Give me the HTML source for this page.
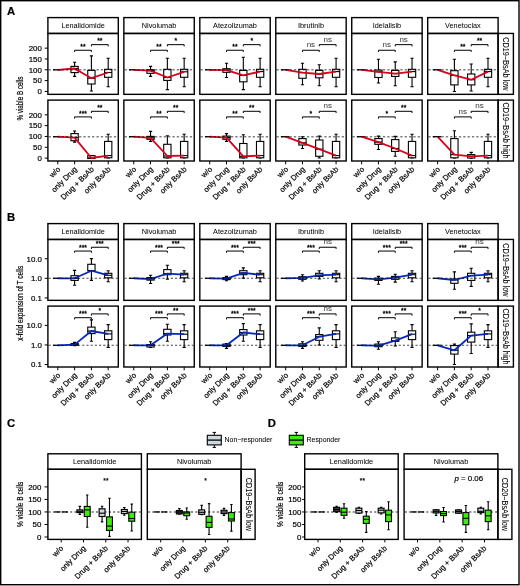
<!DOCTYPE html><html><head><meta charset="utf-8"><style>html,body{margin:0;padding:0;background:#fff;}svg{display:block;will-change:transform;}text{font-family:"Liberation Sans", sans-serif;stroke:#000;stroke-width:0.2px;}</style></head><body>
<svg width="520" height="586" viewBox="0 0 520 586">
<rect x="0" y="0" width="520" height="586" fill="#fff"/>
<text x="7" y="14.8" font-size="11.3" text-anchor="start" font-weight="bold" fill="#000">A</text>
<text x="7" y="220.9" font-size="11.3" text-anchor="start" font-weight="bold" fill="#000">B</text>
<text x="7" y="426.8" font-size="11.3" text-anchor="start" font-weight="bold" fill="#000">C</text>
<text x="267.7" y="427" font-size="11.3" text-anchor="start" font-weight="bold" fill="#000">D</text>
<rect x="47.9" y="17.6" width="70.4" height="15.85" fill="none" stroke="#000" stroke-width="1.4"/>
<text x="83.1" y="28" font-size="7.3" text-anchor="middle" font-weight="normal" fill="#000" style="stroke-width:0.02px">Lenalidomide</text>
<rect x="123.86" y="17.6" width="70.4" height="15.85" fill="none" stroke="#000" stroke-width="1.4"/>
<text x="159.06" y="28" font-size="7.3" text-anchor="middle" font-weight="normal" fill="#000" style="stroke-width:0.02px">Nivolumab</text>
<rect x="199.82" y="17.6" width="70.4" height="15.85" fill="none" stroke="#000" stroke-width="1.4"/>
<text x="235.02" y="28" font-size="7.3" text-anchor="middle" font-weight="normal" fill="#000" style="stroke-width:0.02px">Atezolizumab</text>
<rect x="275.78" y="17.6" width="70.4" height="15.85" fill="none" stroke="#000" stroke-width="1.4"/>
<text x="310.98" y="28" font-size="7.3" text-anchor="middle" font-weight="normal" fill="#000" style="stroke-width:0.02px">Ibrutinib</text>
<rect x="351.74" y="17.6" width="70.4" height="15.85" fill="none" stroke="#000" stroke-width="1.4"/>
<text x="386.94" y="28" font-size="7.3" text-anchor="middle" font-weight="normal" fill="#000" style="stroke-width:0.02px">Idelalisib</text>
<rect x="427.7" y="17.6" width="70.4" height="15.85" fill="none" stroke="#000" stroke-width="1.4"/>
<text x="462.9" y="28" font-size="7.3" text-anchor="middle" font-weight="normal" fill="#000" style="stroke-width:0.02px">Venetoclax</text>
<rect x="498.1" y="33.45" width="15.3" height="60.9" fill="none" stroke="#000" stroke-width="1.4"/>
<text x="0" y="0" font-size="7.3" text-anchor="middle" style="stroke-width:0.05px" transform="translate(502.9 63.9) rotate(90) scale(1 1.17)">CD19−BsAb low</text>
<path d="M44.7 48.15H47.9" stroke="#000" stroke-width="1"/>
<text x="41.9" y="50.95" font-size="7.9" text-anchor="end" font-weight="normal" fill="#000">200</text>
<path d="M44.7 58.98H47.9" stroke="#000" stroke-width="1"/>
<text x="41.9" y="61.77" font-size="7.9" text-anchor="end" font-weight="normal" fill="#000">150</text>
<path d="M44.7 69.8H47.9" stroke="#000" stroke-width="1"/>
<text x="41.9" y="72.6" font-size="7.9" text-anchor="end" font-weight="normal" fill="#000">100</text>
<path d="M44.7 80.62H47.9" stroke="#000" stroke-width="1"/>
<text x="41.9" y="83.42" font-size="7.9" text-anchor="end" font-weight="normal" fill="#000">50</text>
<path d="M44.7 91.45H47.9" stroke="#000" stroke-width="1"/>
<text x="41.9" y="94.25" font-size="7.9" text-anchor="end" font-weight="normal" fill="#000">0</text>
<path d="M53.05 69.8H61.55" stroke="#000" stroke-width="1.3"/>
<path d="M74.6 62.2V66.4M74.6 72.6V76.4M73 62.2H76.2M73 76.4H76.2" stroke="#000" stroke-width="1.1" fill="none"/>
<rect x="70.95" y="66.4" width="7.3" height="6.2" fill="#fff" stroke="#000" stroke-width="1.1"/>
<path d="M70.95 68.5H78.25" stroke="#000" stroke-width="1.1"/>
<path d="M91.4 55.9V70.4M91.4 84V91M89.8 55.9H93M89.8 91H93" stroke="#000" stroke-width="1.1" fill="none"/>
<rect x="87.75" y="70.4" width="7.3" height="13.6" fill="#fff" stroke="#000" stroke-width="1.1"/>
<path d="M87.75 78.2H95.05" stroke="#000" stroke-width="1.1"/>
<path d="M108.2 58.3V69.3M108.2 77.3V86.8M106.6 58.3H109.8M106.6 86.8H109.8" stroke="#000" stroke-width="1.1" fill="none"/>
<rect x="104.55" y="69.3" width="7.3" height="8" fill="#fff" stroke="#000" stroke-width="1.1"/>
<path d="M104.55 72.5H111.85" stroke="#000" stroke-width="1.1"/>
<polyline points="57.8,69.8 74.6,68.5 91.4,78.2 108.2,72.5" fill="none" stroke="#d9001b" stroke-width="1.8" stroke-linejoin="round"/>
<path d="M48.6 69.8H117.6" stroke="#000" stroke-opacity="0.5" stroke-width="1.6" stroke-dasharray="2.3 2.05"/>
<path d="M74.6 51.95V50.25H91.4V51.95" stroke="#000" stroke-width="1" fill="none"/>
<text x="83" y="48.85" font-size="6.8" text-anchor="middle" font-weight="normal" fill="#000" style="stroke-width:0.3px">**</text>
<path d="M91.4 46.35V44.65H108.2V46.35" stroke="#000" stroke-width="1" fill="none"/>
<text x="99.8" y="43.25" font-size="6.8" text-anchor="middle" font-weight="normal" fill="#000" style="stroke-width:0.3px">**</text>
<rect x="47.9" y="33.45" width="70.4" height="60.9" fill="none" stroke="#000" stroke-width="1.4"/>
<path d="M129.01 69.8H137.51" stroke="#000" stroke-width="1.3"/>
<path d="M150.56 66.4V69.7M150.56 73.3V76.4M148.96 66.4H152.16M148.96 76.4H152.16" stroke="#000" stroke-width="1.1" fill="none"/>
<rect x="146.91" y="69.7" width="7.3" height="3.6" fill="#fff" stroke="#000" stroke-width="1.1"/>
<path d="M146.91 70.7H154.21" stroke="#000" stroke-width="1.1"/>
<path d="M167.36 58.3V69.3M167.36 80.4V89.6M165.76 58.3H168.96M165.76 89.6H168.96" stroke="#000" stroke-width="1.1" fill="none"/>
<rect x="163.71" y="69.3" width="7.3" height="11.1" fill="#fff" stroke="#000" stroke-width="1.1"/>
<path d="M163.71 77.5H171.01" stroke="#000" stroke-width="1.1"/>
<path d="M184.16 58.3V69.3M184.16 77.3V86.8M182.56 58.3H185.76M182.56 86.8H185.76" stroke="#000" stroke-width="1.1" fill="none"/>
<rect x="180.51" y="69.3" width="7.3" height="8" fill="#fff" stroke="#000" stroke-width="1.1"/>
<path d="M180.51 71.8H187.81" stroke="#000" stroke-width="1.1"/>
<polyline points="133.76,69.8 150.56,70.7 167.36,77.5 184.16,71.8" fill="none" stroke="#d9001b" stroke-width="1.8" stroke-linejoin="round"/>
<path d="M124.56 69.8H193.56" stroke="#000" stroke-opacity="0.5" stroke-width="1.6" stroke-dasharray="2.3 2.05"/>
<path d="M150.56 51.95V50.25H167.36V51.95" stroke="#000" stroke-width="1" fill="none"/>
<text x="158.96" y="48.85" font-size="6.8" text-anchor="middle" font-weight="normal" fill="#000" style="stroke-width:0.3px">**</text>
<path d="M167.36 46.35V44.65H184.16V46.35" stroke="#000" stroke-width="1" fill="none"/>
<text x="175.76" y="43.25" font-size="6.8" text-anchor="middle" font-weight="normal" fill="#000" style="stroke-width:0.3px">*</text>
<rect x="123.86" y="33.45" width="70.4" height="60.9" fill="none" stroke="#000" stroke-width="1.4"/>
<path d="M204.97 69.8H213.47" stroke="#000" stroke-width="1.3"/>
<path d="M226.52 63.3V68.7M226.52 72.3V77.5M224.92 63.3H228.12M224.92 77.5H228.12" stroke="#000" stroke-width="1.1" fill="none"/>
<rect x="222.87" y="68.7" width="7.3" height="3.6" fill="#fff" stroke="#000" stroke-width="1.1"/>
<path d="M222.87 70.1H230.17" stroke="#000" stroke-width="1.1"/>
<path d="M243.32 57.3V70.4M243.32 81.8V89.6M241.72 57.3H244.92M241.72 89.6H244.92" stroke="#000" stroke-width="1.1" fill="none"/>
<rect x="239.67" y="70.4" width="7.3" height="11.4" fill="#fff" stroke="#000" stroke-width="1.1"/>
<path d="M239.67 75.4H246.97" stroke="#000" stroke-width="1.1"/>
<path d="M260.12 58.3V69.3M260.12 77.3V86.8M258.52 58.3H261.72M258.52 86.8H261.72" stroke="#000" stroke-width="1.1" fill="none"/>
<rect x="256.47" y="69.3" width="7.3" height="8" fill="#fff" stroke="#000" stroke-width="1.1"/>
<path d="M256.47 71.6H263.77" stroke="#000" stroke-width="1.1"/>
<polyline points="209.72,69.8 226.52,70.1 243.32,75.4 260.12,71.6" fill="none" stroke="#d9001b" stroke-width="1.8" stroke-linejoin="round"/>
<path d="M200.52 69.8H269.52" stroke="#000" stroke-opacity="0.5" stroke-width="1.6" stroke-dasharray="2.3 2.05"/>
<path d="M226.52 51.95V50.25H243.32V51.95" stroke="#000" stroke-width="1" fill="none"/>
<text x="234.92" y="48.85" font-size="6.8" text-anchor="middle" font-weight="normal" fill="#000" style="stroke-width:0.3px">**</text>
<path d="M243.32 46.35V44.65H260.12V46.35" stroke="#000" stroke-width="1" fill="none"/>
<text x="251.72" y="43.25" font-size="6.8" text-anchor="middle" font-weight="normal" fill="#000" style="stroke-width:0.3px">*</text>
<rect x="199.82" y="33.45" width="70.4" height="60.9" fill="none" stroke="#000" stroke-width="1.4"/>
<path d="M280.93 69.8H289.43" stroke="#000" stroke-width="1.3"/>
<path d="M302.48 63.3V69.3M302.48 78.3V84.7M300.88 63.3H304.08M300.88 84.7H304.08" stroke="#000" stroke-width="1.1" fill="none"/>
<rect x="298.83" y="69.3" width="7.3" height="9" fill="#fff" stroke="#000" stroke-width="1.1"/>
<path d="M298.83 72.6H306.13" stroke="#000" stroke-width="1.1"/>
<path d="M319.28 64.7V70.4M319.28 77.8V85.8M317.68 64.7H320.88M317.68 85.8H320.88" stroke="#000" stroke-width="1.1" fill="none"/>
<rect x="315.63" y="70.4" width="7.3" height="7.4" fill="#fff" stroke="#000" stroke-width="1.1"/>
<path d="M315.63 74H322.93" stroke="#000" stroke-width="1.1"/>
<path d="M336.08 58.3V69.3M336.08 77.3V86.8M334.48 58.3H337.68M334.48 86.8H337.68" stroke="#000" stroke-width="1.1" fill="none"/>
<rect x="332.43" y="69.3" width="7.3" height="8" fill="#fff" stroke="#000" stroke-width="1.1"/>
<path d="M332.43 71.6H339.73" stroke="#000" stroke-width="1.1"/>
<polyline points="285.68,69.8 302.48,72.6 319.28,74 336.08,71.6" fill="none" stroke="#d9001b" stroke-width="1.8" stroke-linejoin="round"/>
<path d="M276.48 69.8H345.48" stroke="#000" stroke-opacity="0.5" stroke-width="1.6" stroke-dasharray="2.3 2.05"/>
<path d="M302.48 51.95V50.25H319.28V51.95" stroke="#000" stroke-width="1" fill="none"/>
<text x="310.88" y="47.25" font-size="8" text-anchor="middle" font-weight="normal" fill="#444" style="stroke:#444;stroke-width:0.05px">ns</text>
<path d="M319.28 46.35V44.65H336.08V46.35" stroke="#000" stroke-width="1" fill="none"/>
<text x="327.68" y="41.65" font-size="8" text-anchor="middle" font-weight="normal" fill="#444" style="stroke:#444;stroke-width:0.05px">ns</text>
<rect x="275.78" y="33.45" width="70.4" height="60.9" fill="none" stroke="#000" stroke-width="1.4"/>
<path d="M356.89 69.8H365.39" stroke="#000" stroke-width="1.3"/>
<path d="M378.44 59.3V70.1M378.44 77.5V83M376.84 59.3H380.04M376.84 83H380.04" stroke="#000" stroke-width="1.1" fill="none"/>
<rect x="374.79" y="70.1" width="7.3" height="7.4" fill="#fff" stroke="#000" stroke-width="1.1"/>
<path d="M374.79 71.8H382.09" stroke="#000" stroke-width="1.1"/>
<path d="M395.24 61.9V70.4M395.24 76.4V85.8M393.64 61.9H396.84M393.64 85.8H396.84" stroke="#000" stroke-width="1.1" fill="none"/>
<rect x="391.59" y="70.4" width="7.3" height="6" fill="#fff" stroke="#000" stroke-width="1.1"/>
<path d="M391.59 73.6H398.89" stroke="#000" stroke-width="1.1"/>
<path d="M412.04 58.3V69.3M412.04 77.3V86.8M410.44 58.3H413.64M410.44 86.8H413.64" stroke="#000" stroke-width="1.1" fill="none"/>
<rect x="408.39" y="69.3" width="7.3" height="8" fill="#fff" stroke="#000" stroke-width="1.1"/>
<path d="M408.39 71.6H415.69" stroke="#000" stroke-width="1.1"/>
<polyline points="361.64,69.8 378.44,71.8 395.24,73.6 412.04,71.6" fill="none" stroke="#d9001b" stroke-width="1.8" stroke-linejoin="round"/>
<path d="M352.44 69.8H421.44" stroke="#000" stroke-opacity="0.5" stroke-width="1.6" stroke-dasharray="2.3 2.05"/>
<path d="M378.44 51.95V50.25H395.24V51.95" stroke="#000" stroke-width="1" fill="none"/>
<text x="386.84" y="47.25" font-size="8" text-anchor="middle" font-weight="normal" fill="#444" style="stroke:#444;stroke-width:0.05px">ns</text>
<path d="M395.24 46.35V44.65H412.04V46.35" stroke="#000" stroke-width="1" fill="none"/>
<text x="403.64" y="41.65" font-size="8" text-anchor="middle" font-weight="normal" fill="#444" style="stroke:#444;stroke-width:0.05px">ns</text>
<rect x="351.74" y="33.45" width="70.4" height="60.9" fill="none" stroke="#000" stroke-width="1.4"/>
<path d="M432.85 69.8H441.35" stroke="#000" stroke-width="1.3"/>
<path d="M454.4 59.3V70.7M454.4 84.9V91.5M452.8 59.3H456M452.8 91.5H456" stroke="#000" stroke-width="1.1" fill="none"/>
<rect x="450.75" y="70.7" width="7.3" height="14.2" fill="#fff" stroke="#000" stroke-width="1.1"/>
<path d="M450.75 75.4H458.05" stroke="#000" stroke-width="1.1"/>
<path d="M471.2 64V74M471.2 84.9V91M469.6 64H472.8M469.6 91H472.8" stroke="#000" stroke-width="1.1" fill="none"/>
<rect x="467.55" y="74" width="7.3" height="10.9" fill="#fff" stroke="#000" stroke-width="1.1"/>
<path d="M467.55 79.7H474.85" stroke="#000" stroke-width="1.1"/>
<path d="M488 58.3V69.3M488 77.3V86.8M486.4 58.3H489.6M486.4 86.8H489.6" stroke="#000" stroke-width="1.1" fill="none"/>
<rect x="484.35" y="69.3" width="7.3" height="8" fill="#fff" stroke="#000" stroke-width="1.1"/>
<path d="M484.35 71.6H491.65" stroke="#000" stroke-width="1.1"/>
<polyline points="437.6,69.8 454.4,75.4 471.2,79.7 488,71.6" fill="none" stroke="#d9001b" stroke-width="1.8" stroke-linejoin="round"/>
<path d="M428.4 69.8H497.4" stroke="#000" stroke-opacity="0.5" stroke-width="1.6" stroke-dasharray="2.3 2.05"/>
<path d="M454.4 51.95V50.25H471.2V51.95" stroke="#000" stroke-width="1" fill="none"/>
<text x="462.8" y="48.85" font-size="6.8" text-anchor="middle" font-weight="normal" fill="#000" style="stroke-width:0.3px">**</text>
<path d="M471.2 46.35V44.65H488V46.35" stroke="#000" stroke-width="1" fill="none"/>
<text x="479.6" y="43.25" font-size="6.8" text-anchor="middle" font-weight="normal" fill="#000" style="stroke-width:0.3px">**</text>
<rect x="427.7" y="33.45" width="70.4" height="60.9" fill="none" stroke="#000" stroke-width="1.4"/>
<rect x="498.1" y="100.1" width="15.3" height="60.9" fill="none" stroke="#000" stroke-width="1.4"/>
<text x="0" y="0" font-size="7.3" text-anchor="middle" style="stroke-width:0.05px" transform="translate(502.9 130.55) rotate(90) scale(1 1.17)">CD19−BsAb high</text>
<path d="M44.7 114.8H47.9" stroke="#000" stroke-width="1"/>
<text x="41.9" y="117.6" font-size="7.9" text-anchor="end" font-weight="normal" fill="#000">200</text>
<path d="M44.7 125.63H47.9" stroke="#000" stroke-width="1"/>
<text x="41.9" y="128.43" font-size="7.9" text-anchor="end" font-weight="normal" fill="#000">150</text>
<path d="M44.7 136.45H47.9" stroke="#000" stroke-width="1"/>
<text x="41.9" y="139.25" font-size="7.9" text-anchor="end" font-weight="normal" fill="#000">100</text>
<path d="M44.7 147.28H47.9" stroke="#000" stroke-width="1"/>
<text x="41.9" y="150.08" font-size="7.9" text-anchor="end" font-weight="normal" fill="#000">50</text>
<path d="M44.7 158.1H47.9" stroke="#000" stroke-width="1"/>
<text x="41.9" y="160.9" font-size="7.9" text-anchor="end" font-weight="normal" fill="#000">0</text>
<path d="M53.05 136.7H61.55" stroke="#000" stroke-width="1.3"/>
<path d="M74.6 131V133.6M74.6 140.7V142.1M73 131H76.2M73 142.1H76.2" stroke="#000" stroke-width="1.1" fill="none"/>
<rect x="70.95" y="133.6" width="7.3" height="7.1" fill="#fff" stroke="#000" stroke-width="1.1"/>
<path d="M70.95 137.6H78.25" stroke="#000" stroke-width="1.1"/>
<path d="M91.4 155.6V155.6M91.4 158.5V158.5M89.8 155.6H93M89.8 158.5H93" stroke="#000" stroke-width="1.1" fill="none"/>
<rect x="87.75" y="155.6" width="7.3" height="2.9" fill="#fff" stroke="#000" stroke-width="1.1"/>
<path d="M87.75 158H95.05" stroke="#000" stroke-width="1.1"/>
<path d="M108.2 134.3V141.4M108.2 157.8V158M106.6 134.3H109.8M106.6 158H109.8" stroke="#000" stroke-width="1.1" fill="none"/>
<rect x="104.55" y="141.4" width="7.3" height="16.4" fill="#fff" stroke="#000" stroke-width="1.1"/>
<path d="M104.55 155.6H111.85" stroke="#000" stroke-width="1.1"/>
<polyline points="57.8,136.7 74.6,137.6 91.4,158 108.2,155.6" fill="none" stroke="#d9001b" stroke-width="1.8" stroke-linejoin="round"/>
<path d="M48.6 136.7H117.6" stroke="#000" stroke-opacity="0.5" stroke-width="1.6" stroke-dasharray="2.3 2.05"/>
<path d="M74.6 118.6V116.9H91.4V118.6" stroke="#000" stroke-width="1" fill="none"/>
<text x="83" y="115.5" font-size="6.8" text-anchor="middle" font-weight="normal" fill="#000" style="stroke-width:0.3px">***</text>
<path d="M91.4 113V111.3H108.2V113" stroke="#000" stroke-width="1" fill="none"/>
<text x="99.8" y="109.9" font-size="6.8" text-anchor="middle" font-weight="normal" fill="#000" style="stroke-width:0.3px">**</text>
<rect x="47.9" y="100.1" width="70.4" height="60.9" fill="none" stroke="#000" stroke-width="1.4"/>
<path d="M57.8 161V164.3" stroke="#000" stroke-width="1"/>
<text x="0" y="0" font-size="7.6" text-anchor="end" transform="translate(60.8 169.7) rotate(-45)">w/o</text>
<path d="M74.6 161V164.3" stroke="#000" stroke-width="1"/>
<text x="0" y="0" font-size="7.6" text-anchor="end" transform="translate(77.6 169.7) rotate(-45)">only Drug</text>
<path d="M91.4 161V164.3" stroke="#000" stroke-width="1"/>
<text x="0" y="0" font-size="7.6" text-anchor="end" transform="translate(94.4 169.7) rotate(-45)">Drug + BsAb</text>
<path d="M108.2 161V164.3" stroke="#000" stroke-width="1"/>
<text x="0" y="0" font-size="7.6" text-anchor="end" transform="translate(111.2 169.7) rotate(-45)">only BsAb</text>
<path d="M129.01 136.7H137.51" stroke="#000" stroke-width="1.3"/>
<path d="M150.56 131.4V136.4M150.56 139.3V141.4M148.96 131.4H152.16M148.96 141.4H152.16" stroke="#000" stroke-width="1.1" fill="none"/>
<rect x="146.91" y="136.4" width="7.3" height="2.9" fill="#fff" stroke="#000" stroke-width="1.1"/>
<path d="M146.91 137.8H154.21" stroke="#000" stroke-width="1.1"/>
<path d="M167.36 135.7V144.3M167.36 157.8V158M165.76 135.7H168.96M165.76 158H168.96" stroke="#000" stroke-width="1.1" fill="none"/>
<rect x="163.71" y="144.3" width="7.3" height="13.5" fill="#fff" stroke="#000" stroke-width="1.1"/>
<path d="M163.71 156H171.01" stroke="#000" stroke-width="1.1"/>
<path d="M184.16 134.3V141.4M184.16 157.8V158M182.56 134.3H185.76M182.56 158H185.76" stroke="#000" stroke-width="1.1" fill="none"/>
<rect x="180.51" y="141.4" width="7.3" height="16.4" fill="#fff" stroke="#000" stroke-width="1.1"/>
<path d="M180.51 155.6H187.81" stroke="#000" stroke-width="1.1"/>
<polyline points="133.76,136.7 150.56,137.8 167.36,156 184.16,155.6" fill="none" stroke="#d9001b" stroke-width="1.8" stroke-linejoin="round"/>
<path d="M124.56 136.7H193.56" stroke="#000" stroke-opacity="0.5" stroke-width="1.6" stroke-dasharray="2.3 2.05"/>
<path d="M150.56 118.6V116.9H167.36V118.6" stroke="#000" stroke-width="1" fill="none"/>
<text x="158.96" y="115.5" font-size="6.8" text-anchor="middle" font-weight="normal" fill="#000" style="stroke-width:0.3px">**</text>
<path d="M167.36 113V111.3H184.16V113" stroke="#000" stroke-width="1" fill="none"/>
<text x="175.76" y="109.9" font-size="6.8" text-anchor="middle" font-weight="normal" fill="#000" style="stroke-width:0.3px">**</text>
<rect x="123.86" y="100.1" width="70.4" height="60.9" fill="none" stroke="#000" stroke-width="1.4"/>
<path d="M133.76 161V164.3" stroke="#000" stroke-width="1"/>
<text x="0" y="0" font-size="7.6" text-anchor="end" transform="translate(136.76 169.7) rotate(-45)">w/o</text>
<path d="M150.56 161V164.3" stroke="#000" stroke-width="1"/>
<text x="0" y="0" font-size="7.6" text-anchor="end" transform="translate(153.56 169.7) rotate(-45)">only Drug</text>
<path d="M167.36 161V164.3" stroke="#000" stroke-width="1"/>
<text x="0" y="0" font-size="7.6" text-anchor="end" transform="translate(170.36 169.7) rotate(-45)">Drug + BsAb</text>
<path d="M184.16 161V164.3" stroke="#000" stroke-width="1"/>
<text x="0" y="0" font-size="7.6" text-anchor="end" transform="translate(187.16 169.7) rotate(-45)">only BsAb</text>
<path d="M204.97 136.7H213.47" stroke="#000" stroke-width="1.3"/>
<path d="M226.52 133.6V136.1M226.52 139.3V141.4M224.92 133.6H228.12M224.92 141.4H228.12" stroke="#000" stroke-width="1.1" fill="none"/>
<rect x="222.87" y="136.1" width="7.3" height="3.2" fill="#fff" stroke="#000" stroke-width="1.1"/>
<path d="M222.87 137.6H230.17" stroke="#000" stroke-width="1.1"/>
<path d="M243.32 134.7V143.5M243.32 157.8V158M241.72 134.7H244.92M241.72 158H244.92" stroke="#000" stroke-width="1.1" fill="none"/>
<rect x="239.67" y="143.5" width="7.3" height="14.3" fill="#fff" stroke="#000" stroke-width="1.1"/>
<path d="M239.67 156.3H246.97" stroke="#000" stroke-width="1.1"/>
<path d="M260.12 134.3V141.4M260.12 157.8V158M258.52 134.3H261.72M258.52 158H261.72" stroke="#000" stroke-width="1.1" fill="none"/>
<rect x="256.47" y="141.4" width="7.3" height="16.4" fill="#fff" stroke="#000" stroke-width="1.1"/>
<path d="M256.47 155.6H263.77" stroke="#000" stroke-width="1.1"/>
<polyline points="209.72,136.7 226.52,137.6 243.32,156.3 260.12,155.6" fill="none" stroke="#d9001b" stroke-width="1.8" stroke-linejoin="round"/>
<path d="M200.52 136.7H269.52" stroke="#000" stroke-opacity="0.5" stroke-width="1.6" stroke-dasharray="2.3 2.05"/>
<path d="M226.52 118.6V116.9H243.32V118.6" stroke="#000" stroke-width="1" fill="none"/>
<text x="234.92" y="115.5" font-size="6.8" text-anchor="middle" font-weight="normal" fill="#000" style="stroke-width:0.3px">**</text>
<path d="M243.32 113V111.3H260.12V113" stroke="#000" stroke-width="1" fill="none"/>
<text x="251.72" y="109.9" font-size="6.8" text-anchor="middle" font-weight="normal" fill="#000" style="stroke-width:0.3px">**</text>
<rect x="199.82" y="100.1" width="70.4" height="60.9" fill="none" stroke="#000" stroke-width="1.4"/>
<path d="M209.72 161V164.3" stroke="#000" stroke-width="1"/>
<text x="0" y="0" font-size="7.6" text-anchor="end" transform="translate(212.72 169.7) rotate(-45)">w/o</text>
<path d="M226.52 161V164.3" stroke="#000" stroke-width="1"/>
<text x="0" y="0" font-size="7.6" text-anchor="end" transform="translate(229.52 169.7) rotate(-45)">only Drug</text>
<path d="M243.32 161V164.3" stroke="#000" stroke-width="1"/>
<text x="0" y="0" font-size="7.6" text-anchor="end" transform="translate(246.32 169.7) rotate(-45)">Drug + BsAb</text>
<path d="M260.12 161V164.3" stroke="#000" stroke-width="1"/>
<text x="0" y="0" font-size="7.6" text-anchor="end" transform="translate(263.12 169.7) rotate(-45)">only BsAb</text>
<path d="M280.93 136.7H289.43" stroke="#000" stroke-width="1.3"/>
<path d="M302.48 136.7V138.6M302.48 145V148.5M300.88 136.7H304.08M300.88 148.5H304.08" stroke="#000" stroke-width="1.1" fill="none"/>
<rect x="298.83" y="138.6" width="7.3" height="6.4" fill="#fff" stroke="#000" stroke-width="1.1"/>
<path d="M298.83 142.8H306.13" stroke="#000" stroke-width="1.1"/>
<path d="M319.28 136.1V140M319.28 156.3V158M317.68 136.1H320.88M317.68 158H320.88" stroke="#000" stroke-width="1.1" fill="none"/>
<rect x="315.63" y="140" width="7.3" height="16.3" fill="#fff" stroke="#000" stroke-width="1.1"/>
<path d="M315.63 149.2H322.93" stroke="#000" stroke-width="1.1"/>
<path d="M336.08 134.3V141.4M336.08 157.8V158M334.48 134.3H337.68M334.48 158H337.68" stroke="#000" stroke-width="1.1" fill="none"/>
<rect x="332.43" y="141.4" width="7.3" height="16.4" fill="#fff" stroke="#000" stroke-width="1.1"/>
<path d="M332.43 155.6H339.73" stroke="#000" stroke-width="1.1"/>
<polyline points="285.68,136.7 302.48,142.8 319.28,149.2 336.08,155.6" fill="none" stroke="#d9001b" stroke-width="1.8" stroke-linejoin="round"/>
<path d="M276.48 136.7H345.48" stroke="#000" stroke-opacity="0.5" stroke-width="1.6" stroke-dasharray="2.3 2.05"/>
<path d="M302.48 118.6V116.9H319.28V118.6" stroke="#000" stroke-width="1" fill="none"/>
<text x="310.88" y="115.5" font-size="6.8" text-anchor="middle" font-weight="normal" fill="#000" style="stroke-width:0.3px">*</text>
<path d="M319.28 113V111.3H336.08V113" stroke="#000" stroke-width="1" fill="none"/>
<text x="327.68" y="108.3" font-size="8" text-anchor="middle" font-weight="normal" fill="#444" style="stroke:#444;stroke-width:0.05px">ns</text>
<rect x="275.78" y="100.1" width="70.4" height="60.9" fill="none" stroke="#000" stroke-width="1.4"/>
<path d="M285.68 161V164.3" stroke="#000" stroke-width="1"/>
<text x="0" y="0" font-size="7.6" text-anchor="end" transform="translate(288.68 169.7) rotate(-45)">w/o</text>
<path d="M302.48 161V164.3" stroke="#000" stroke-width="1"/>
<text x="0" y="0" font-size="7.6" text-anchor="end" transform="translate(305.48 169.7) rotate(-45)">only Drug</text>
<path d="M319.28 161V164.3" stroke="#000" stroke-width="1"/>
<text x="0" y="0" font-size="7.6" text-anchor="end" transform="translate(322.28 169.7) rotate(-45)">Drug + BsAb</text>
<path d="M336.08 161V164.3" stroke="#000" stroke-width="1"/>
<text x="0" y="0" font-size="7.6" text-anchor="end" transform="translate(339.08 169.7) rotate(-45)">only BsAb</text>
<path d="M356.89 136.7H365.39" stroke="#000" stroke-width="1.3"/>
<path d="M378.44 136.1V138.6M378.44 144.3V149.5M376.84 136.1H380.04M376.84 149.5H380.04" stroke="#000" stroke-width="1.1" fill="none"/>
<rect x="374.79" y="138.6" width="7.3" height="5.7" fill="#fff" stroke="#000" stroke-width="1.1"/>
<path d="M374.79 142.1H382.09" stroke="#000" stroke-width="1.1"/>
<path d="M395.24 136.4V139.6M395.24 151.4V156.3M393.64 136.4H396.84M393.64 156.3H396.84" stroke="#000" stroke-width="1.1" fill="none"/>
<rect x="391.59" y="139.6" width="7.3" height="11.8" fill="#fff" stroke="#000" stroke-width="1.1"/>
<path d="M391.59 148.5H398.89" stroke="#000" stroke-width="1.1"/>
<path d="M412.04 134.3V141.4M412.04 157.8V158M410.44 134.3H413.64M410.44 158H413.64" stroke="#000" stroke-width="1.1" fill="none"/>
<rect x="408.39" y="141.4" width="7.3" height="16.4" fill="#fff" stroke="#000" stroke-width="1.1"/>
<path d="M408.39 155.6H415.69" stroke="#000" stroke-width="1.1"/>
<polyline points="361.64,136.7 378.44,142.1 395.24,148.5 412.04,155.6" fill="none" stroke="#d9001b" stroke-width="1.8" stroke-linejoin="round"/>
<path d="M352.44 136.7H421.44" stroke="#000" stroke-opacity="0.5" stroke-width="1.6" stroke-dasharray="2.3 2.05"/>
<path d="M378.44 118.6V116.9H395.24V118.6" stroke="#000" stroke-width="1" fill="none"/>
<text x="386.84" y="115.5" font-size="6.8" text-anchor="middle" font-weight="normal" fill="#000" style="stroke-width:0.3px">*</text>
<path d="M395.24 113V111.3H412.04V113" stroke="#000" stroke-width="1" fill="none"/>
<text x="403.64" y="109.9" font-size="6.8" text-anchor="middle" font-weight="normal" fill="#000" style="stroke-width:0.3px">**</text>
<rect x="351.74" y="100.1" width="70.4" height="60.9" fill="none" stroke="#000" stroke-width="1.4"/>
<path d="M361.64 161V164.3" stroke="#000" stroke-width="1"/>
<text x="0" y="0" font-size="7.6" text-anchor="end" transform="translate(364.64 169.7) rotate(-45)">w/o</text>
<path d="M378.44 161V164.3" stroke="#000" stroke-width="1"/>
<text x="0" y="0" font-size="7.6" text-anchor="end" transform="translate(381.44 169.7) rotate(-45)">only Drug</text>
<path d="M395.24 161V164.3" stroke="#000" stroke-width="1"/>
<text x="0" y="0" font-size="7.6" text-anchor="end" transform="translate(398.24 169.7) rotate(-45)">Drug + BsAb</text>
<path d="M412.04 161V164.3" stroke="#000" stroke-width="1"/>
<text x="0" y="0" font-size="7.6" text-anchor="end" transform="translate(415.04 169.7) rotate(-45)">only BsAb</text>
<path d="M432.85 136.7H441.35" stroke="#000" stroke-width="1.3"/>
<path d="M454.4 130.7V138.6M454.4 157.8V158M452.8 130.7H456M452.8 158H456" stroke="#000" stroke-width="1.1" fill="none"/>
<rect x="450.75" y="138.6" width="7.3" height="19.2" fill="#fff" stroke="#000" stroke-width="1.1"/>
<path d="M450.75 154.6H458.05" stroke="#000" stroke-width="1.1"/>
<path d="M471.2 152.4V154.6M471.2 158V158.3M469.6 152.4H472.8M469.6 158.3H472.8" stroke="#000" stroke-width="1.1" fill="none"/>
<rect x="467.55" y="154.6" width="7.3" height="3.4" fill="#fff" stroke="#000" stroke-width="1.1"/>
<path d="M467.55 156.3H474.85" stroke="#000" stroke-width="1.1"/>
<path d="M488 134.3V141.4M488 157.8V158M486.4 134.3H489.6M486.4 158H489.6" stroke="#000" stroke-width="1.1" fill="none"/>
<rect x="484.35" y="141.4" width="7.3" height="16.4" fill="#fff" stroke="#000" stroke-width="1.1"/>
<path d="M484.35 155.6H491.65" stroke="#000" stroke-width="1.1"/>
<polyline points="437.6,136.7 454.4,154.6 471.2,156.3 488,155.6" fill="none" stroke="#d9001b" stroke-width="1.8" stroke-linejoin="round"/>
<path d="M428.4 136.7H497.4" stroke="#000" stroke-opacity="0.5" stroke-width="1.6" stroke-dasharray="2.3 2.05"/>
<path d="M454.4 118.6V116.9H471.2V118.6" stroke="#000" stroke-width="1" fill="none"/>
<text x="462.8" y="113.9" font-size="8" text-anchor="middle" font-weight="normal" fill="#444" style="stroke:#444;stroke-width:0.05px">ns</text>
<path d="M471.2 113V111.3H488V113" stroke="#000" stroke-width="1" fill="none"/>
<text x="479.6" y="108.3" font-size="8" text-anchor="middle" font-weight="normal" fill="#444" style="stroke:#444;stroke-width:0.05px">ns</text>
<rect x="427.7" y="100.1" width="70.4" height="60.9" fill="none" stroke="#000" stroke-width="1.4"/>
<path d="M437.6 161V164.3" stroke="#000" stroke-width="1"/>
<text x="0" y="0" font-size="7.6" text-anchor="end" transform="translate(440.6 169.7) rotate(-45)">w/o</text>
<path d="M454.4 161V164.3" stroke="#000" stroke-width="1"/>
<text x="0" y="0" font-size="7.6" text-anchor="end" transform="translate(457.4 169.7) rotate(-45)">only Drug</text>
<path d="M471.2 161V164.3" stroke="#000" stroke-width="1"/>
<text x="0" y="0" font-size="7.6" text-anchor="end" transform="translate(474.2 169.7) rotate(-45)">Drug + BsAb</text>
<path d="M488 161V164.3" stroke="#000" stroke-width="1"/>
<text x="0" y="0" font-size="7.6" text-anchor="end" transform="translate(491 169.7) rotate(-45)">only BsAb</text>
<text x="0" y="0" font-size="8.6" text-anchor="middle" textLength="44" lengthAdjust="spacingAndGlyphs" transform="translate(22.7 98.53) rotate(-90)">% viable B cells</text>
<rect x="47.9" y="223.6" width="70.4" height="15.85" fill="none" stroke="#000" stroke-width="1.4"/>
<text x="83.1" y="234" font-size="7.3" text-anchor="middle" font-weight="normal" fill="#000" style="stroke-width:0.02px">Lenalidomide</text>
<rect x="123.86" y="223.6" width="70.4" height="15.85" fill="none" stroke="#000" stroke-width="1.4"/>
<text x="159.06" y="234" font-size="7.3" text-anchor="middle" font-weight="normal" fill="#000" style="stroke-width:0.02px">Nivolumab</text>
<rect x="199.82" y="223.6" width="70.4" height="15.85" fill="none" stroke="#000" stroke-width="1.4"/>
<text x="235.02" y="234" font-size="7.3" text-anchor="middle" font-weight="normal" fill="#000" style="stroke-width:0.02px">Atezolizumab</text>
<rect x="275.78" y="223.6" width="70.4" height="15.85" fill="none" stroke="#000" stroke-width="1.4"/>
<text x="310.98" y="234" font-size="7.3" text-anchor="middle" font-weight="normal" fill="#000" style="stroke-width:0.02px">Ibrutinib</text>
<rect x="351.74" y="223.6" width="70.4" height="15.85" fill="none" stroke="#000" stroke-width="1.4"/>
<text x="386.94" y="234" font-size="7.3" text-anchor="middle" font-weight="normal" fill="#000" style="stroke-width:0.02px">Idelalisib</text>
<rect x="427.7" y="223.6" width="70.4" height="15.85" fill="none" stroke="#000" stroke-width="1.4"/>
<text x="462.9" y="234" font-size="7.3" text-anchor="middle" font-weight="normal" fill="#000" style="stroke-width:0.02px">Venetoclax</text>
<rect x="498.1" y="239.45" width="15.3" height="60.9" fill="none" stroke="#000" stroke-width="1.4"/>
<text x="0" y="0" font-size="7.3" text-anchor="middle" style="stroke-width:0.05px" transform="translate(502.9 269.9) rotate(90) scale(1 1.17)">CD19−BsAb low</text>
<path d="M44.7 258.75H47.9" stroke="#000" stroke-width="1"/>
<text x="41.9" y="261.55" font-size="7.9" text-anchor="end" font-weight="normal" fill="#000">10.0</text>
<path d="M44.7 278.3H47.9" stroke="#000" stroke-width="1"/>
<text x="41.9" y="281.1" font-size="7.9" text-anchor="end" font-weight="normal" fill="#000">1.0</text>
<path d="M44.7 297.9H47.9" stroke="#000" stroke-width="1"/>
<text x="41.9" y="300.7" font-size="7.9" text-anchor="end" font-weight="normal" fill="#000">0.1</text>
<path d="M53.05 278.3H61.55" stroke="#000" stroke-width="1.3"/>
<path d="M74.6 270.4V275.7M74.6 280.4V285.2M73 270.4H76.2M73 285.2H76.2" stroke="#000" stroke-width="1.1" fill="none"/>
<rect x="70.95" y="275.7" width="7.3" height="4.7" fill="#fff" stroke="#000" stroke-width="1.1"/>
<path d="M70.95 278.3H78.25" stroke="#000" stroke-width="1.1"/>
<path d="M91.4 258.6V264.3M91.4 270.7V280.4M89.8 258.6H93M89.8 280.4H93" stroke="#000" stroke-width="1.1" fill="none"/>
<rect x="87.75" y="264.3" width="7.3" height="6.4" fill="#fff" stroke="#000" stroke-width="1.1"/>
<path d="M87.75 270.7H95.05" stroke="#000" stroke-width="1.1"/>
<path d="M108.2 270.7V273.3M108.2 277.8V281.8M106.6 270.7H109.8M106.6 281.8H109.8" stroke="#000" stroke-width="1.1" fill="none"/>
<rect x="104.55" y="273.3" width="7.3" height="4.5" fill="#fff" stroke="#000" stroke-width="1.1"/>
<path d="M104.55 275.3H111.85" stroke="#000" stroke-width="1.1"/>
<polyline points="57.8,278.3 74.6,278.3 91.4,270.7 108.2,275.3" fill="none" stroke="#0629bb" stroke-width="1.8" stroke-linejoin="round"/>
<path d="M48.6 278.3H117.6" stroke="#000" stroke-opacity="0.72" stroke-width="1.1" stroke-dasharray="2.2 2.0"/>
<path d="M74.6 252.75V251.05H91.4V252.75" stroke="#000" stroke-width="1" fill="none"/>
<text x="83" y="249.65" font-size="6.8" text-anchor="middle" font-weight="normal" fill="#000" style="stroke-width:0.3px">***</text>
<path d="M91.4 248.95V247.25H108.2V248.95" stroke="#000" stroke-width="1" fill="none"/>
<text x="99.8" y="245.85" font-size="6.8" text-anchor="middle" font-weight="normal" fill="#000" style="stroke-width:0.3px">***</text>
<rect x="47.9" y="239.45" width="70.4" height="60.9" fill="none" stroke="#000" stroke-width="1.4"/>
<path d="M129.01 278.3H137.51" stroke="#000" stroke-width="1.3"/>
<path d="M150.56 275.3V277.6M150.56 280.1V283.5M148.96 275.3H152.16M148.96 283.5H152.16" stroke="#000" stroke-width="1.1" fill="none"/>
<rect x="146.91" y="277.6" width="7.3" height="2.5" fill="#fff" stroke="#000" stroke-width="1.1"/>
<path d="M146.91 279H154.21" stroke="#000" stroke-width="1.1"/>
<path d="M167.36 265.3V269.6M167.36 274.7V279.3M165.76 265.3H168.96M165.76 279.3H168.96" stroke="#000" stroke-width="1.1" fill="none"/>
<rect x="163.71" y="269.6" width="7.3" height="5.1" fill="#fff" stroke="#000" stroke-width="1.1"/>
<path d="M163.71 273.6H171.01" stroke="#000" stroke-width="1.1"/>
<path d="M184.16 270.7V273.3M184.16 277.8V281.8M182.56 270.7H185.76M182.56 281.8H185.76" stroke="#000" stroke-width="1.1" fill="none"/>
<rect x="180.51" y="273.3" width="7.3" height="4.5" fill="#fff" stroke="#000" stroke-width="1.1"/>
<path d="M180.51 274.7H187.81" stroke="#000" stroke-width="1.1"/>
<polyline points="133.76,278.3 150.56,279 167.36,273.6 184.16,274.7" fill="none" stroke="#0629bb" stroke-width="1.8" stroke-linejoin="round"/>
<path d="M124.56 278.3H193.56" stroke="#000" stroke-opacity="0.72" stroke-width="1.1" stroke-dasharray="2.2 2.0"/>
<path d="M150.56 252.75V251.05H167.36V252.75" stroke="#000" stroke-width="1" fill="none"/>
<text x="158.96" y="249.65" font-size="6.8" text-anchor="middle" font-weight="normal" fill="#000" style="stroke-width:0.3px">***</text>
<path d="M167.36 248.95V247.25H184.16V248.95" stroke="#000" stroke-width="1" fill="none"/>
<text x="175.76" y="245.85" font-size="6.8" text-anchor="middle" font-weight="normal" fill="#000" style="stroke-width:0.3px">***</text>
<rect x="123.86" y="239.45" width="70.4" height="60.9" fill="none" stroke="#000" stroke-width="1.4"/>
<path d="M204.97 278.3H213.47" stroke="#000" stroke-width="1.3"/>
<path d="M226.52 276.4V277.6M226.52 279.6V280.7M224.92 276.4H228.12M224.92 280.7H228.12" stroke="#000" stroke-width="1.1" fill="none"/>
<rect x="222.87" y="277.6" width="7.3" height="2" fill="#fff" stroke="#000" stroke-width="1.1"/>
<path d="M222.87 278.6H230.17" stroke="#000" stroke-width="1.1"/>
<path d="M243.32 267.9V270.7M243.32 274.7V278.1M241.72 267.9H244.92M241.72 278.1H244.92" stroke="#000" stroke-width="1.1" fill="none"/>
<rect x="239.67" y="270.7" width="7.3" height="4" fill="#fff" stroke="#000" stroke-width="1.1"/>
<path d="M239.67 272.9H246.97" stroke="#000" stroke-width="1.1"/>
<path d="M260.12 270.7V273.3M260.12 277.8V281.8M258.52 270.7H261.72M258.52 281.8H261.72" stroke="#000" stroke-width="1.1" fill="none"/>
<rect x="256.47" y="273.3" width="7.3" height="4.5" fill="#fff" stroke="#000" stroke-width="1.1"/>
<path d="M256.47 274.7H263.77" stroke="#000" stroke-width="1.1"/>
<polyline points="209.72,278.3 226.52,278.6 243.32,272.9 260.12,274.7" fill="none" stroke="#0629bb" stroke-width="1.8" stroke-linejoin="round"/>
<path d="M200.52 278.3H269.52" stroke="#000" stroke-opacity="0.72" stroke-width="1.1" stroke-dasharray="2.2 2.0"/>
<path d="M226.52 252.75V251.05H243.32V252.75" stroke="#000" stroke-width="1" fill="none"/>
<text x="234.92" y="249.65" font-size="6.8" text-anchor="middle" font-weight="normal" fill="#000" style="stroke-width:0.3px">***</text>
<path d="M243.32 248.95V247.25H260.12V248.95" stroke="#000" stroke-width="1" fill="none"/>
<text x="251.72" y="245.85" font-size="6.8" text-anchor="middle" font-weight="normal" fill="#000" style="stroke-width:0.3px">***</text>
<rect x="199.82" y="239.45" width="70.4" height="60.9" fill="none" stroke="#000" stroke-width="1.4"/>
<path d="M280.93 278.3H289.43" stroke="#000" stroke-width="1.3"/>
<path d="M302.48 274.7V276.7M302.48 279.3V281M300.88 274.7H304.08M300.88 281H304.08" stroke="#000" stroke-width="1.1" fill="none"/>
<rect x="298.83" y="276.7" width="7.3" height="2.6" fill="#fff" stroke="#000" stroke-width="1.1"/>
<path d="M298.83 277.8H306.13" stroke="#000" stroke-width="1.1"/>
<path d="M319.28 270.7V273.3M319.28 276.4V279M317.68 270.7H320.88M317.68 279H320.88" stroke="#000" stroke-width="1.1" fill="none"/>
<rect x="315.63" y="273.3" width="7.3" height="3.1" fill="#fff" stroke="#000" stroke-width="1.1"/>
<path d="M315.63 275.3H322.93" stroke="#000" stroke-width="1.1"/>
<path d="M336.08 270.7V273.3M336.08 277.8V281.8M334.48 270.7H337.68M334.48 281.8H337.68" stroke="#000" stroke-width="1.1" fill="none"/>
<rect x="332.43" y="273.3" width="7.3" height="4.5" fill="#fff" stroke="#000" stroke-width="1.1"/>
<path d="M332.43 274.7H339.73" stroke="#000" stroke-width="1.1"/>
<polyline points="285.68,278.3 302.48,277.8 319.28,275.3 336.08,274.7" fill="none" stroke="#0629bb" stroke-width="1.8" stroke-linejoin="round"/>
<path d="M276.48 278.3H345.48" stroke="#000" stroke-opacity="0.72" stroke-width="1.1" stroke-dasharray="2.2 2.0"/>
<path d="M302.48 252.75V251.05H319.28V252.75" stroke="#000" stroke-width="1" fill="none"/>
<text x="310.88" y="249.65" font-size="6.8" text-anchor="middle" font-weight="normal" fill="#000" style="stroke-width:0.3px">***</text>
<path d="M319.28 248.95V247.25H336.08V248.95" stroke="#000" stroke-width="1" fill="none"/>
<text x="327.68" y="244.25" font-size="8" text-anchor="middle" font-weight="normal" fill="#444" style="stroke:#444;stroke-width:0.05px">ns</text>
<rect x="275.78" y="239.45" width="70.4" height="60.9" fill="none" stroke="#000" stroke-width="1.4"/>
<path d="M356.89 278.3H365.39" stroke="#000" stroke-width="1.3"/>
<path d="M378.44 276.4V278.1M378.44 280.4V284.3M376.84 276.4H380.04M376.84 284.3H380.04" stroke="#000" stroke-width="1.1" fill="none"/>
<rect x="374.79" y="278.1" width="7.3" height="2.3" fill="#fff" stroke="#000" stroke-width="1.1"/>
<path d="M374.79 279.3H382.09" stroke="#000" stroke-width="1.1"/>
<path d="M395.24 274.3V276.4M395.24 279.3V282.1M393.64 274.3H396.84M393.64 282.1H396.84" stroke="#000" stroke-width="1.1" fill="none"/>
<rect x="391.59" y="276.4" width="7.3" height="2.9" fill="#fff" stroke="#000" stroke-width="1.1"/>
<path d="M391.59 277.6H398.89" stroke="#000" stroke-width="1.1"/>
<path d="M412.04 270.7V273.3M412.04 277.8V281.8M410.44 270.7H413.64M410.44 281.8H413.64" stroke="#000" stroke-width="1.1" fill="none"/>
<rect x="408.39" y="273.3" width="7.3" height="4.5" fill="#fff" stroke="#000" stroke-width="1.1"/>
<path d="M408.39 274.7H415.69" stroke="#000" stroke-width="1.1"/>
<polyline points="361.64,278.3 378.44,279.3 395.24,277.6 412.04,274.7" fill="none" stroke="#0629bb" stroke-width="1.8" stroke-linejoin="round"/>
<path d="M352.44 278.3H421.44" stroke="#000" stroke-opacity="0.72" stroke-width="1.1" stroke-dasharray="2.2 2.0"/>
<path d="M378.44 252.75V251.05H395.24V252.75" stroke="#000" stroke-width="1" fill="none"/>
<text x="386.84" y="249.65" font-size="6.8" text-anchor="middle" font-weight="normal" fill="#000" style="stroke-width:0.3px">***</text>
<path d="M395.24 248.95V247.25H412.04V248.95" stroke="#000" stroke-width="1" fill="none"/>
<text x="403.64" y="245.85" font-size="6.8" text-anchor="middle" font-weight="normal" fill="#000" style="stroke-width:0.3px">***</text>
<rect x="351.74" y="239.45" width="70.4" height="60.9" fill="none" stroke="#000" stroke-width="1.4"/>
<path d="M432.85 278.3H441.35" stroke="#000" stroke-width="1.3"/>
<path d="M454.4 271.9V279M454.4 283.3V289.2M452.8 271.9H456M452.8 289.2H456" stroke="#000" stroke-width="1.1" fill="none"/>
<rect x="450.75" y="279" width="7.3" height="4.3" fill="#fff" stroke="#000" stroke-width="1.1"/>
<path d="M450.75 280H458.05" stroke="#000" stroke-width="1.1"/>
<path d="M471.2 268.2V273.3M471.2 280.4V286.4M469.6 268.2H472.8M469.6 286.4H472.8" stroke="#000" stroke-width="1.1" fill="none"/>
<rect x="467.55" y="273.3" width="7.3" height="7.1" fill="#fff" stroke="#000" stroke-width="1.1"/>
<path d="M467.55 275.7H474.85" stroke="#000" stroke-width="1.1"/>
<path d="M488 270.7V273.3M488 277.8V281.8M486.4 270.7H489.6M486.4 281.8H489.6" stroke="#000" stroke-width="1.1" fill="none"/>
<rect x="484.35" y="273.3" width="7.3" height="4.5" fill="#fff" stroke="#000" stroke-width="1.1"/>
<path d="M484.35 274.7H491.65" stroke="#000" stroke-width="1.1"/>
<polyline points="437.6,278.3 454.4,280 471.2,275.7 488,274.7" fill="none" stroke="#0629bb" stroke-width="1.8" stroke-linejoin="round"/>
<path d="M428.4 278.3H497.4" stroke="#000" stroke-opacity="0.72" stroke-width="1.1" stroke-dasharray="2.2 2.0"/>
<path d="M454.4 252.75V251.05H471.2V252.75" stroke="#000" stroke-width="1" fill="none"/>
<text x="462.8" y="249.65" font-size="6.8" text-anchor="middle" font-weight="normal" fill="#000" style="stroke-width:0.3px">***</text>
<path d="M471.2 248.95V247.25H488V248.95" stroke="#000" stroke-width="1" fill="none"/>
<text x="479.6" y="244.25" font-size="8" text-anchor="middle" font-weight="normal" fill="#444" style="stroke:#444;stroke-width:0.05px">ns</text>
<rect x="427.7" y="239.45" width="70.4" height="60.9" fill="none" stroke="#000" stroke-width="1.4"/>
<rect x="498.1" y="306.1" width="15.3" height="60.9" fill="none" stroke="#000" stroke-width="1.4"/>
<text x="0" y="0" font-size="7.3" text-anchor="middle" style="stroke-width:0.05px" transform="translate(502.9 336.55) rotate(90) scale(1 1.17)">CD19−BsAb high</text>
<path d="M44.7 325.4H47.9" stroke="#000" stroke-width="1"/>
<text x="41.9" y="328.2" font-size="7.9" text-anchor="end" font-weight="normal" fill="#000">10.0</text>
<path d="M44.7 344.95H47.9" stroke="#000" stroke-width="1"/>
<text x="41.9" y="347.75" font-size="7.9" text-anchor="end" font-weight="normal" fill="#000">1.0</text>
<path d="M44.7 364.55H47.9" stroke="#000" stroke-width="1"/>
<text x="41.9" y="367.35" font-size="7.9" text-anchor="end" font-weight="normal" fill="#000">0.1</text>
<path d="M53.05 345.3H61.55" stroke="#000" stroke-width="1.3"/>
<path d="M74.6 342.4V343.6M74.6 345.3V345.6M73 342.4H76.2M73 345.6H76.2" stroke="#000" stroke-width="1.1" fill="none"/>
<rect x="70.95" y="343.6" width="7.3" height="1.7" fill="#fff" stroke="#000" stroke-width="1.1"/>
<path d="M70.95 344.6H78.25" stroke="#000" stroke-width="1.1"/>
<path d="M91.4 319.9V327.1M91.4 333.6V341.3M89.8 319.9H93M89.8 341.3H93" stroke="#000" stroke-width="1.1" fill="none"/>
<rect x="87.75" y="327.1" width="7.3" height="6.5" fill="#fff" stroke="#000" stroke-width="1.1"/>
<path d="M87.75 331H95.05" stroke="#000" stroke-width="1.1"/>
<path d="M108.2 324.6V330.8M108.2 339.6V347.4M106.6 324.6H109.8M106.6 347.4H109.8" stroke="#000" stroke-width="1.1" fill="none"/>
<rect x="104.55" y="330.8" width="7.3" height="8.8" fill="#fff" stroke="#000" stroke-width="1.1"/>
<path d="M104.55 333.9H111.85" stroke="#000" stroke-width="1.1"/>
<polyline points="57.8,345.3 74.6,344.6 91.4,331 108.2,333.9" fill="none" stroke="#0629bb" stroke-width="1.8" stroke-linejoin="round"/>
<path d="M48.6 345.3H117.6" stroke="#000" stroke-opacity="0.72" stroke-width="1.1" stroke-dasharray="2.2 2.0"/>
<path d="M74.6 319.4V317.7H91.4V319.4" stroke="#000" stroke-width="1" fill="none"/>
<text x="83" y="316.3" font-size="6.8" text-anchor="middle" font-weight="normal" fill="#000" style="stroke-width:0.3px">***</text>
<path d="M91.4 315.6V313.9H108.2V315.6" stroke="#000" stroke-width="1" fill="none"/>
<text x="99.8" y="312.5" font-size="6.8" text-anchor="middle" font-weight="normal" fill="#000" style="stroke-width:0.3px">*</text>
<rect x="47.9" y="306.1" width="70.4" height="60.9" fill="none" stroke="#000" stroke-width="1.4"/>
<path d="M57.8 367V370.3" stroke="#000" stroke-width="1"/>
<text x="0" y="0" font-size="7.6" text-anchor="end" transform="translate(60.8 375.7) rotate(-45)">w/o</text>
<path d="M74.6 367V370.3" stroke="#000" stroke-width="1"/>
<text x="0" y="0" font-size="7.6" text-anchor="end" transform="translate(77.6 375.7) rotate(-45)">only Drug</text>
<path d="M91.4 367V370.3" stroke="#000" stroke-width="1"/>
<text x="0" y="0" font-size="7.6" text-anchor="end" transform="translate(94.4 375.7) rotate(-45)">Drug + BsAb</text>
<path d="M108.2 367V370.3" stroke="#000" stroke-width="1"/>
<text x="0" y="0" font-size="7.6" text-anchor="end" transform="translate(111.2 375.7) rotate(-45)">only BsAb</text>
<path d="M129.01 345.3H137.51" stroke="#000" stroke-width="1.3"/>
<path d="M150.56 341.7V344.6M150.56 347V347.4M148.96 341.7H152.16M148.96 347.4H152.16" stroke="#000" stroke-width="1.1" fill="none"/>
<rect x="146.91" y="344.6" width="7.3" height="2.4" fill="#fff" stroke="#000" stroke-width="1.1"/>
<path d="M146.91 345.3H154.21" stroke="#000" stroke-width="1.1"/>
<path d="M167.36 324.2V329.3M167.36 335V341.3M165.76 324.2H168.96M165.76 341.3H168.96" stroke="#000" stroke-width="1.1" fill="none"/>
<rect x="163.71" y="329.3" width="7.3" height="5.7" fill="#fff" stroke="#000" stroke-width="1.1"/>
<path d="M163.71 333.6H171.01" stroke="#000" stroke-width="1.1"/>
<path d="M184.16 324.6V330.8M184.16 339.6V347.4M182.56 324.6H185.76M182.56 347.4H185.76" stroke="#000" stroke-width="1.1" fill="none"/>
<rect x="180.51" y="330.8" width="7.3" height="8.8" fill="#fff" stroke="#000" stroke-width="1.1"/>
<path d="M180.51 334.2H187.81" stroke="#000" stroke-width="1.1"/>
<polyline points="133.76,345.3 150.56,345.3 167.36,333.6 184.16,334.2" fill="none" stroke="#0629bb" stroke-width="1.8" stroke-linejoin="round"/>
<path d="M124.56 345.3H193.56" stroke="#000" stroke-opacity="0.72" stroke-width="1.1" stroke-dasharray="2.2 2.0"/>
<path d="M150.56 319.4V317.7H167.36V319.4" stroke="#000" stroke-width="1" fill="none"/>
<text x="158.96" y="316.3" font-size="6.8" text-anchor="middle" font-weight="normal" fill="#000" style="stroke-width:0.3px">***</text>
<path d="M167.36 315.6V313.9H184.16V315.6" stroke="#000" stroke-width="1" fill="none"/>
<text x="175.76" y="312.5" font-size="6.8" text-anchor="middle" font-weight="normal" fill="#000" style="stroke-width:0.3px">**</text>
<rect x="123.86" y="306.1" width="70.4" height="60.9" fill="none" stroke="#000" stroke-width="1.4"/>
<path d="M133.76 367V370.3" stroke="#000" stroke-width="1"/>
<text x="0" y="0" font-size="7.6" text-anchor="end" transform="translate(136.76 375.7) rotate(-45)">w/o</text>
<path d="M150.56 367V370.3" stroke="#000" stroke-width="1"/>
<text x="0" y="0" font-size="7.6" text-anchor="end" transform="translate(153.56 375.7) rotate(-45)">only Drug</text>
<path d="M167.36 367V370.3" stroke="#000" stroke-width="1"/>
<text x="0" y="0" font-size="7.6" text-anchor="end" transform="translate(170.36 375.7) rotate(-45)">Drug + BsAb</text>
<path d="M184.16 367V370.3" stroke="#000" stroke-width="1"/>
<text x="0" y="0" font-size="7.6" text-anchor="end" transform="translate(187.16 375.7) rotate(-45)">only BsAb</text>
<path d="M204.97 345.3H213.47" stroke="#000" stroke-width="1.3"/>
<path d="M226.52 343.6V344.1M226.52 346.4V348.4M224.92 343.6H228.12M224.92 348.4H228.12" stroke="#000" stroke-width="1.1" fill="none"/>
<rect x="222.87" y="344.1" width="7.3" height="2.3" fill="#fff" stroke="#000" stroke-width="1.1"/>
<path d="M222.87 345.3H230.17" stroke="#000" stroke-width="1.1"/>
<path d="M243.32 323.6V329.6M243.32 335V341.3M241.72 323.6H244.92M241.72 341.3H244.92" stroke="#000" stroke-width="1.1" fill="none"/>
<rect x="239.67" y="329.6" width="7.3" height="5.4" fill="#fff" stroke="#000" stroke-width="1.1"/>
<path d="M239.67 332.5H246.97" stroke="#000" stroke-width="1.1"/>
<path d="M260.12 324.6V330.8M260.12 339.6V347.4M258.52 324.6H261.72M258.52 347.4H261.72" stroke="#000" stroke-width="1.1" fill="none"/>
<rect x="256.47" y="330.8" width="7.3" height="8.8" fill="#fff" stroke="#000" stroke-width="1.1"/>
<path d="M256.47 334.2H263.77" stroke="#000" stroke-width="1.1"/>
<polyline points="209.72,345.3 226.52,345.3 243.32,332.5 260.12,334.2" fill="none" stroke="#0629bb" stroke-width="1.8" stroke-linejoin="round"/>
<path d="M200.52 345.3H269.52" stroke="#000" stroke-opacity="0.72" stroke-width="1.1" stroke-dasharray="2.2 2.0"/>
<path d="M226.52 319.4V317.7H243.32V319.4" stroke="#000" stroke-width="1" fill="none"/>
<text x="234.92" y="316.3" font-size="6.8" text-anchor="middle" font-weight="normal" fill="#000" style="stroke-width:0.3px">***</text>
<path d="M243.32 315.6V313.9H260.12V315.6" stroke="#000" stroke-width="1" fill="none"/>
<text x="251.72" y="312.5" font-size="6.8" text-anchor="middle" font-weight="normal" fill="#000" style="stroke-width:0.3px">***</text>
<rect x="199.82" y="306.1" width="70.4" height="60.9" fill="none" stroke="#000" stroke-width="1.4"/>
<path d="M209.72 367V370.3" stroke="#000" stroke-width="1"/>
<text x="0" y="0" font-size="7.6" text-anchor="end" transform="translate(212.72 375.7) rotate(-45)">w/o</text>
<path d="M226.52 367V370.3" stroke="#000" stroke-width="1"/>
<text x="0" y="0" font-size="7.6" text-anchor="end" transform="translate(229.52 375.7) rotate(-45)">only Drug</text>
<path d="M243.32 367V370.3" stroke="#000" stroke-width="1"/>
<text x="0" y="0" font-size="7.6" text-anchor="end" transform="translate(246.32 375.7) rotate(-45)">Drug + BsAb</text>
<path d="M260.12 367V370.3" stroke="#000" stroke-width="1"/>
<text x="0" y="0" font-size="7.6" text-anchor="end" transform="translate(263.12 375.7) rotate(-45)">only BsAb</text>
<path d="M280.93 345.3H289.43" stroke="#000" stroke-width="1.3"/>
<path d="M302.48 341.7V343.8M302.48 346.4V348.4M300.88 341.7H304.08M300.88 348.4H304.08" stroke="#000" stroke-width="1.1" fill="none"/>
<rect x="298.83" y="343.8" width="7.3" height="2.6" fill="#fff" stroke="#000" stroke-width="1.1"/>
<path d="M298.83 345.3H306.13" stroke="#000" stroke-width="1.1"/>
<path d="M319.28 327.9V334.6M319.28 340.3V345M317.68 327.9H320.88M317.68 345H320.88" stroke="#000" stroke-width="1.1" fill="none"/>
<rect x="315.63" y="334.6" width="7.3" height="5.7" fill="#fff" stroke="#000" stroke-width="1.1"/>
<path d="M315.63 336.7H322.93" stroke="#000" stroke-width="1.1"/>
<path d="M336.08 324.6V330.8M336.08 339.6V347.4M334.48 324.6H337.68M334.48 347.4H337.68" stroke="#000" stroke-width="1.1" fill="none"/>
<rect x="332.43" y="330.8" width="7.3" height="8.8" fill="#fff" stroke="#000" stroke-width="1.1"/>
<path d="M332.43 333.9H339.73" stroke="#000" stroke-width="1.1"/>
<polyline points="285.68,345.3 302.48,345.3 319.28,336.7 336.08,333.9" fill="none" stroke="#0629bb" stroke-width="1.8" stroke-linejoin="round"/>
<path d="M276.48 345.3H345.48" stroke="#000" stroke-opacity="0.72" stroke-width="1.1" stroke-dasharray="2.2 2.0"/>
<path d="M302.48 319.4V317.7H319.28V319.4" stroke="#000" stroke-width="1" fill="none"/>
<text x="310.88" y="316.3" font-size="6.8" text-anchor="middle" font-weight="normal" fill="#000" style="stroke-width:0.3px">***</text>
<path d="M319.28 315.6V313.9H336.08V315.6" stroke="#000" stroke-width="1" fill="none"/>
<text x="327.68" y="310.9" font-size="8" text-anchor="middle" font-weight="normal" fill="#444" style="stroke:#444;stroke-width:0.05px">ns</text>
<rect x="275.78" y="306.1" width="70.4" height="60.9" fill="none" stroke="#000" stroke-width="1.4"/>
<path d="M285.68 367V370.3" stroke="#000" stroke-width="1"/>
<text x="0" y="0" font-size="7.6" text-anchor="end" transform="translate(288.68 375.7) rotate(-45)">w/o</text>
<path d="M302.48 367V370.3" stroke="#000" stroke-width="1"/>
<text x="0" y="0" font-size="7.6" text-anchor="end" transform="translate(305.48 375.7) rotate(-45)">only Drug</text>
<path d="M319.28 367V370.3" stroke="#000" stroke-width="1"/>
<text x="0" y="0" font-size="7.6" text-anchor="end" transform="translate(322.28 375.7) rotate(-45)">Drug + BsAb</text>
<path d="M336.08 367V370.3" stroke="#000" stroke-width="1"/>
<text x="0" y="0" font-size="7.6" text-anchor="end" transform="translate(339.08 375.7) rotate(-45)">only BsAb</text>
<path d="M356.89 345.3H365.39" stroke="#000" stroke-width="1.3"/>
<path d="M378.44 341.7V344.1M378.44 346.7V349.3M376.84 341.7H380.04M376.84 349.3H380.04" stroke="#000" stroke-width="1.1" fill="none"/>
<rect x="374.79" y="344.1" width="7.3" height="2.6" fill="#fff" stroke="#000" stroke-width="1.1"/>
<path d="M374.79 345.6H382.09" stroke="#000" stroke-width="1.1"/>
<path d="M395.24 331.8V337.9M395.24 341.3V346M393.64 331.8H396.84M393.64 346H396.84" stroke="#000" stroke-width="1.1" fill="none"/>
<rect x="391.59" y="337.9" width="7.3" height="3.4" fill="#fff" stroke="#000" stroke-width="1.1"/>
<path d="M391.59 340.7H398.89" stroke="#000" stroke-width="1.1"/>
<path d="M412.04 324.6V330.8M412.04 339.6V347.4M410.44 324.6H413.64M410.44 347.4H413.64" stroke="#000" stroke-width="1.1" fill="none"/>
<rect x="408.39" y="330.8" width="7.3" height="8.8" fill="#fff" stroke="#000" stroke-width="1.1"/>
<path d="M408.39 334.2H415.69" stroke="#000" stroke-width="1.1"/>
<polyline points="361.64,345.3 378.44,345.6 395.24,340.7 412.04,334.2" fill="none" stroke="#0629bb" stroke-width="1.8" stroke-linejoin="round"/>
<path d="M352.44 345.3H421.44" stroke="#000" stroke-opacity="0.72" stroke-width="1.1" stroke-dasharray="2.2 2.0"/>
<path d="M378.44 319.4V317.7H395.24V319.4" stroke="#000" stroke-width="1" fill="none"/>
<text x="386.84" y="316.3" font-size="6.8" text-anchor="middle" font-weight="normal" fill="#000" style="stroke-width:0.3px">***</text>
<path d="M395.24 315.6V313.9H412.04V315.6" stroke="#000" stroke-width="1" fill="none"/>
<text x="403.64" y="312.5" font-size="6.8" text-anchor="middle" font-weight="normal" fill="#000" style="stroke-width:0.3px">**</text>
<rect x="351.74" y="306.1" width="70.4" height="60.9" fill="none" stroke="#000" stroke-width="1.4"/>
<path d="M361.64 367V370.3" stroke="#000" stroke-width="1"/>
<text x="0" y="0" font-size="7.6" text-anchor="end" transform="translate(364.64 375.7) rotate(-45)">w/o</text>
<path d="M378.44 367V370.3" stroke="#000" stroke-width="1"/>
<text x="0" y="0" font-size="7.6" text-anchor="end" transform="translate(381.44 375.7) rotate(-45)">only Drug</text>
<path d="M395.24 367V370.3" stroke="#000" stroke-width="1"/>
<text x="0" y="0" font-size="7.6" text-anchor="end" transform="translate(398.24 375.7) rotate(-45)">Drug + BsAb</text>
<path d="M412.04 367V370.3" stroke="#000" stroke-width="1"/>
<text x="0" y="0" font-size="7.6" text-anchor="end" transform="translate(415.04 375.7) rotate(-45)">only BsAb</text>
<path d="M432.85 345.3H441.35" stroke="#000" stroke-width="1.3"/>
<path d="M454.4 344.1V345.6M454.4 354.1V364.5M452.8 344.1H456M452.8 364.5H456" stroke="#000" stroke-width="1.1" fill="none"/>
<rect x="450.75" y="345.6" width="7.3" height="8.5" fill="#fff" stroke="#000" stroke-width="1.1"/>
<path d="M450.75 350.3H458.05" stroke="#000" stroke-width="1.1"/>
<path d="M471.2 323.9V332.2M471.2 342.1V353.5M469.6 323.9H472.8M469.6 353.5H472.8" stroke="#000" stroke-width="1.1" fill="none"/>
<rect x="467.55" y="332.2" width="7.3" height="9.9" fill="#fff" stroke="#000" stroke-width="1.1"/>
<path d="M467.55 335.6H474.85" stroke="#000" stroke-width="1.1"/>
<path d="M488 324.6V330.8M488 339.6V347.4M486.4 324.6H489.6M486.4 347.4H489.6" stroke="#000" stroke-width="1.1" fill="none"/>
<rect x="484.35" y="330.8" width="7.3" height="8.8" fill="#fff" stroke="#000" stroke-width="1.1"/>
<path d="M484.35 333.9H491.65" stroke="#000" stroke-width="1.1"/>
<polyline points="437.6,345.3 454.4,350.3 471.2,335.6 488,333.9" fill="none" stroke="#0629bb" stroke-width="1.8" stroke-linejoin="round"/>
<path d="M428.4 345.3H497.4" stroke="#000" stroke-opacity="0.72" stroke-width="1.1" stroke-dasharray="2.2 2.0"/>
<path d="M454.4 319.4V317.7H471.2V319.4" stroke="#000" stroke-width="1" fill="none"/>
<text x="462.8" y="316.3" font-size="6.8" text-anchor="middle" font-weight="normal" fill="#000" style="stroke-width:0.3px">***</text>
<path d="M471.2 315.6V313.9H488V315.6" stroke="#000" stroke-width="1" fill="none"/>
<text x="479.6" y="312.5" font-size="6.8" text-anchor="middle" font-weight="normal" fill="#000" style="stroke-width:0.3px">*</text>
<rect x="427.7" y="306.1" width="70.4" height="60.9" fill="none" stroke="#000" stroke-width="1.4"/>
<path d="M437.6 367V370.3" stroke="#000" stroke-width="1"/>
<text x="0" y="0" font-size="7.6" text-anchor="end" transform="translate(440.6 375.7) rotate(-45)">w/o</text>
<path d="M454.4 367V370.3" stroke="#000" stroke-width="1"/>
<text x="0" y="0" font-size="7.6" text-anchor="end" transform="translate(457.4 375.7) rotate(-45)">only Drug</text>
<path d="M471.2 367V370.3" stroke="#000" stroke-width="1"/>
<text x="0" y="0" font-size="7.6" text-anchor="end" transform="translate(474.2 375.7) rotate(-45)">Drug + BsAb</text>
<path d="M488 367V370.3" stroke="#000" stroke-width="1"/>
<text x="0" y="0" font-size="7.6" text-anchor="end" transform="translate(491 375.7) rotate(-45)">only BsAb</text>
<text x="0" y="0" font-size="8.6" text-anchor="middle" textLength="75" lengthAdjust="spacingAndGlyphs" transform="translate(22.7 303.22) rotate(-90)">x-fold expansion of T cells</text>
<rect x="47.9" y="453.8" width="93.5" height="15.5" fill="none" stroke="#000" stroke-width="1.4"/>
<text x="94.65" y="464.1" font-size="7.3" text-anchor="middle" font-weight="normal" fill="#000" style="stroke-width:0.02px">Lenalidomide</text>
<path d="M48.6 511.95H140.7" stroke="#222" stroke-width="1.1" stroke-dasharray="2.1 2.2"/>
<path d="M54.61 511.95H60.51" stroke="#000" stroke-width="1.3"/>
<path d="M62.01 511.95H67.91" stroke="#000" stroke-width="1.3"/>
<path d="M79.82 506.4V509.9M79.82 512.6V514.5M78.62 506.4H81.02M78.62 514.5H81.02" stroke="#000" stroke-width="1.15" fill="none"/>
<rect x="76.87" y="509.9" width="5.9" height="2.7" fill="#cdd9e0" stroke="#000" stroke-width="1.15"/>
<path d="M76.87 511.3H82.77" stroke="#000" stroke-width="1.15"/>
<path d="M87.22 495V506.4M87.22 516.5V527.3M86.02 495H88.42M86.02 527.3H88.42" stroke="#000" stroke-width="1.1" fill="none"/>
<rect x="84.27" y="506.4" width="5.9" height="10.1" fill="#3bed0c" stroke="#000" stroke-width="1.1"/>
<path d="M84.27 509.9H90.17" stroke="#000" stroke-width="1.1"/>
<path d="M102.08 506.2V508.8M102.08 516.5V521.9M100.88 506.2H103.28M100.88 521.9H103.28" stroke="#000" stroke-width="1.15" fill="none"/>
<rect x="99.13" y="508.8" width="5.9" height="7.7" fill="#cdd9e0" stroke="#000" stroke-width="1.15"/>
<path d="M99.13 513.2H105.03" stroke="#000" stroke-width="1.15"/>
<path d="M109.48 498.3V516.9M109.48 530.4V536.4M108.28 498.3H110.68M108.28 536.4H110.68" stroke="#000" stroke-width="1.1" fill="none"/>
<rect x="106.53" y="516.9" width="5.9" height="13.5" fill="#3bed0c" stroke="#000" stroke-width="1.1"/>
<path d="M106.53 526.1H112.43" stroke="#000" stroke-width="1.1"/>
<path d="M124.34 507.5V509.5M124.34 513.6V515.2M123.14 507.5H125.54M123.14 515.2H125.54" stroke="#000" stroke-width="1.15" fill="none"/>
<rect x="121.39" y="509.5" width="5.9" height="4.1" fill="#cdd9e0" stroke="#000" stroke-width="1.15"/>
<path d="M121.39 511.5H127.29" stroke="#000" stroke-width="1.15"/>
<path d="M131.74 504.1V512.2M131.74 521.2V531M130.54 504.1H132.94M130.54 531H132.94" stroke="#000" stroke-width="1.1" fill="none"/>
<rect x="128.79" y="512.2" width="5.9" height="9" fill="#3bed0c" stroke="#000" stroke-width="1.1"/>
<path d="M128.79 518.5H134.69" stroke="#000" stroke-width="1.1"/>
<text x="105.9" y="483.3" font-size="6.6" text-anchor="middle" font-weight="normal" fill="#000" style="stroke-width:0.2px">**</text>
<rect x="47.9" y="469.3" width="93.5" height="70.1" fill="none" stroke="#000" stroke-width="1.4"/>
<path d="M61.26 539.4V542.4" stroke="#000" stroke-width="1"/>
<text x="0" y="0" font-size="7.6" text-anchor="end" transform="translate(63.86 548.8) rotate(-45)">w/o</text>
<path d="M83.52 539.4V542.4" stroke="#000" stroke-width="1"/>
<text x="0" y="0" font-size="7.6" text-anchor="end" transform="translate(86.12 548.8) rotate(-45)">only Drug</text>
<path d="M105.78 539.4V542.4" stroke="#000" stroke-width="1"/>
<text x="0" y="0" font-size="7.6" text-anchor="end" transform="translate(108.38 548.8) rotate(-45)">Drug + BsAb</text>
<path d="M128.04 539.4V542.4" stroke="#000" stroke-width="1"/>
<text x="0" y="0" font-size="7.6" text-anchor="end" transform="translate(130.64 548.8) rotate(-45)">only BsAb</text>
<rect x="147.3" y="453.8" width="93.8" height="15.5" fill="none" stroke="#000" stroke-width="1.4"/>
<text x="194.2" y="464.1" font-size="7.3" text-anchor="middle" font-weight="normal" fill="#000" style="stroke-width:0.02px">Nivolumab</text>
<path d="M148 511.95H240.4" stroke="#222" stroke-width="1.1" stroke-dasharray="2.1 2.2"/>
<path d="M154.05 511.95H159.95" stroke="#000" stroke-width="1.3"/>
<path d="M161.45 511.95H167.35" stroke="#000" stroke-width="1.3"/>
<path d="M179.33 508.5V510.5M179.33 513.9V514.2M178.13 508.5H180.53M178.13 514.2H180.53" stroke="#000" stroke-width="1.15" fill="none"/>
<rect x="176.38" y="510.5" width="5.9" height="3.4" fill="#3a3f44" stroke="#000" stroke-width="1.15"/>
<path d="M176.38 512H182.28" stroke="#000" stroke-width="1.15"/>
<path d="M186.73 508V511.9M186.73 515.7V519.3M185.53 508H187.93M185.53 519.3H187.93" stroke="#000" stroke-width="1.1" fill="none"/>
<rect x="183.78" y="511.9" width="5.9" height="3.8" fill="#3bed0c" stroke="#000" stroke-width="1.1"/>
<path d="M183.78 513H189.68" stroke="#000" stroke-width="1.1"/>
<path d="M201.67 505.3V509.9M201.67 514.3V514.6M200.47 505.3H202.87M200.47 514.6H202.87" stroke="#000" stroke-width="1.15" fill="none"/>
<rect x="198.72" y="509.9" width="5.9" height="4.4" fill="#cdd9e0" stroke="#000" stroke-width="1.15"/>
<path d="M198.72 512.3H204.62" stroke="#000" stroke-width="1.15"/>
<path d="M209.07 503.6V516.3M209.07 527.4V534.5M207.87 503.6H210.27M207.87 534.5H210.27" stroke="#000" stroke-width="1.1" fill="none"/>
<rect x="206.12" y="516.3" width="5.9" height="11.1" fill="#3bed0c" stroke="#000" stroke-width="1.1"/>
<path d="M206.12 522.4H212.02" stroke="#000" stroke-width="1.1"/>
<path d="M224 508.3V510.3M224 513.6V515.3M222.8 508.3H225.2M222.8 515.3H225.2" stroke="#000" stroke-width="1.15" fill="none"/>
<rect x="221.05" y="510.3" width="5.9" height="3.3" fill="#cdd9e0" stroke="#000" stroke-width="1.15"/>
<path d="M221.05 512H226.95" stroke="#000" stroke-width="1.15"/>
<path d="M231.4 504.5V512.6M231.4 521V531.1M230.2 504.5H232.6M230.2 531.1H232.6" stroke="#000" stroke-width="1.1" fill="none"/>
<rect x="228.45" y="512.6" width="5.9" height="8.4" fill="#3bed0c" stroke="#000" stroke-width="1.1"/>
<path d="M228.45 519H234.35" stroke="#000" stroke-width="1.1"/>
<text x="205.6" y="483.3" font-size="6.6" text-anchor="middle" font-weight="normal" fill="#000" style="stroke-width:0.2px">*</text>
<rect x="147.3" y="469.3" width="93.8" height="70.1" fill="none" stroke="#000" stroke-width="1.4"/>
<path d="M160.7 539.4V542.4" stroke="#000" stroke-width="1"/>
<text x="0" y="0" font-size="7.6" text-anchor="end" transform="translate(163.3 548.8) rotate(-45)">w/o</text>
<path d="M183.03 539.4V542.4" stroke="#000" stroke-width="1"/>
<text x="0" y="0" font-size="7.6" text-anchor="end" transform="translate(185.63 548.8) rotate(-45)">only Drug</text>
<path d="M205.37 539.4V542.4" stroke="#000" stroke-width="1"/>
<text x="0" y="0" font-size="7.6" text-anchor="end" transform="translate(207.97 548.8) rotate(-45)">Drug + BsAb</text>
<path d="M227.7 539.4V542.4" stroke="#000" stroke-width="1"/>
<text x="0" y="0" font-size="7.6" text-anchor="end" transform="translate(230.3 548.8) rotate(-45)">only BsAb</text>
<rect x="241.1" y="469.3" width="14" height="70.1" fill="none" stroke="#000" stroke-width="1.4"/>
<text x="0" y="0" font-size="7.3" text-anchor="middle" style="stroke-width:0.05px" transform="translate(245.6 504.35) rotate(90) scale(1 1.17)">CD19−BsAb low</text>
<path d="M44.5 486.9H47.9" stroke="#000" stroke-width="1"/>
<text x="41.3" y="489.7" font-size="7.9" text-anchor="end" font-weight="normal" fill="#000">200</text>
<path d="M44.5 499.43H47.9" stroke="#000" stroke-width="1"/>
<text x="41.3" y="502.23" font-size="7.9" text-anchor="end" font-weight="normal" fill="#000">150</text>
<path d="M44.5 511.95H47.9" stroke="#000" stroke-width="1"/>
<text x="41.3" y="514.75" font-size="7.9" text-anchor="end" font-weight="normal" fill="#000">100</text>
<path d="M44.5 524.48H47.9" stroke="#000" stroke-width="1"/>
<text x="41.3" y="527.27" font-size="7.9" text-anchor="end" font-weight="normal" fill="#000">50</text>
<path d="M44.5 537H47.9" stroke="#000" stroke-width="1"/>
<text x="41.3" y="539.8" font-size="7.9" text-anchor="end" font-weight="normal" fill="#000">0</text>
<text x="0" y="0" font-size="8.6" text-anchor="middle" textLength="45.4" lengthAdjust="spacingAndGlyphs" transform="translate(22.7 504.35) rotate(-90)">% viable B cells</text>
<rect x="304.7" y="453.8" width="93.5" height="15.5" fill="none" stroke="#000" stroke-width="1.4"/>
<text x="351.45" y="464.1" font-size="7.3" text-anchor="middle" font-weight="normal" fill="#000" style="stroke-width:0.02px">Lenalidomide</text>
<path d="M305.4 511.95H397.5" stroke="#222" stroke-width="1.1" stroke-dasharray="2.1 2.2"/>
<path d="M311.41 511.95H317.31" stroke="#000" stroke-width="1.3"/>
<path d="M318.81 511.95H324.71" stroke="#000" stroke-width="1.3"/>
<path d="M336.62 506.2V507.3M336.62 511.7V512.4M335.42 506.2H337.82M335.42 512.4H337.82" stroke="#000" stroke-width="1.15" fill="none"/>
<rect x="333.67" y="507.3" width="5.9" height="4.4" fill="#3a3f44" stroke="#000" stroke-width="1.15"/>
<path d="M333.67 509.5H339.57" stroke="#000" stroke-width="1.15"/>
<path d="M344.02 503.7V508.2M344.02 515.3V518.3M342.82 503.7H345.22M342.82 518.3H345.22" stroke="#000" stroke-width="1.1" fill="none"/>
<rect x="341.07" y="508.2" width="5.9" height="7.1" fill="#3bed0c" stroke="#000" stroke-width="1.1"/>
<path d="M341.07 512.2H346.97" stroke="#000" stroke-width="1.1"/>
<path d="M358.88 507.2V508.2M358.88 513.1V513.4M357.68 507.2H360.08M357.68 513.4H360.08" stroke="#000" stroke-width="1.15" fill="none"/>
<rect x="355.93" y="508.2" width="5.9" height="4.9" fill="#cdd9e0" stroke="#000" stroke-width="1.15"/>
<path d="M355.93 510.5H361.83" stroke="#000" stroke-width="1.15"/>
<path d="M366.28 511.5V516.2M366.28 523.4V532.4M365.08 511.5H367.48M365.08 532.4H367.48" stroke="#000" stroke-width="1.1" fill="none"/>
<rect x="363.33" y="516.2" width="5.9" height="7.2" fill="#3bed0c" stroke="#000" stroke-width="1.1"/>
<path d="M363.33 519.3H369.23" stroke="#000" stroke-width="1.1"/>
<path d="M381.14 507.2V508.2M381.14 512.9V514M379.94 507.2H382.34M379.94 514H382.34" stroke="#000" stroke-width="1.15" fill="none"/>
<rect x="378.19" y="508.2" width="5.9" height="4.7" fill="#cdd9e0" stroke="#000" stroke-width="1.15"/>
<path d="M378.19 510.2H384.09" stroke="#000" stroke-width="1.15"/>
<path d="M388.54 501.8V510.2M388.54 521.6V529.7M387.34 501.8H389.74M387.34 529.7H389.74" stroke="#000" stroke-width="1.1" fill="none"/>
<rect x="385.59" y="510.2" width="5.9" height="11.4" fill="#3bed0c" stroke="#000" stroke-width="1.1"/>
<path d="M385.59 514.9H391.49" stroke="#000" stroke-width="1.1"/>
<text x="362.4" y="483.3" font-size="6.6" text-anchor="middle" font-weight="normal" fill="#000" style="stroke-width:0.2px">**</text>
<rect x="304.7" y="469.3" width="93.5" height="70.1" fill="none" stroke="#000" stroke-width="1.4"/>
<path d="M318.06 539.4V542.4" stroke="#000" stroke-width="1"/>
<text x="0" y="0" font-size="7.6" text-anchor="end" transform="translate(320.66 548.8) rotate(-45)">w/o</text>
<path d="M340.32 539.4V542.4" stroke="#000" stroke-width="1"/>
<text x="0" y="0" font-size="7.6" text-anchor="end" transform="translate(342.92 548.8) rotate(-45)">only Drug</text>
<path d="M362.58 539.4V542.4" stroke="#000" stroke-width="1"/>
<text x="0" y="0" font-size="7.6" text-anchor="end" transform="translate(365.18 548.8) rotate(-45)">Drug + BsAb</text>
<path d="M384.84 539.4V542.4" stroke="#000" stroke-width="1"/>
<text x="0" y="0" font-size="7.6" text-anchor="end" transform="translate(387.44 548.8) rotate(-45)">only BsAb</text>
<rect x="404.1" y="453.8" width="93.8" height="15.5" fill="none" stroke="#000" stroke-width="1.4"/>
<text x="451" y="464.1" font-size="7.3" text-anchor="middle" font-weight="normal" fill="#000" style="stroke-width:0.02px">Nivolumab</text>
<path d="M404.8 511.95H497.2" stroke="#222" stroke-width="1.1" stroke-dasharray="2.1 2.2"/>
<path d="M410.85 511.95H416.75" stroke="#000" stroke-width="1.3"/>
<path d="M418.25 511.95H424.15" stroke="#000" stroke-width="1.3"/>
<path d="M436.13 509.6V509.8M436.13 512.9V515.3M434.93 509.6H437.33M434.93 515.3H437.33" stroke="#000" stroke-width="1.15" fill="none"/>
<rect x="433.18" y="509.8" width="5.9" height="3.1" fill="#8a949a" stroke="#000" stroke-width="1.15"/>
<path d="M433.18 511.3H439.08" stroke="#000" stroke-width="1.15"/>
<path d="M443.53 507.5V511.5M443.53 515.6V522M442.33 507.5H444.73M442.33 522H444.73" stroke="#000" stroke-width="1.1" fill="none"/>
<rect x="440.58" y="511.5" width="5.9" height="4.1" fill="#3bed0c" stroke="#000" stroke-width="1.1"/>
<path d="M440.58 513.6H446.48" stroke="#000" stroke-width="1.1"/>
<path d="M458.47 509.9V509.9M458.47 513.2V513.2M457.27 509.9H459.67M457.27 513.2H459.67" stroke="#000" stroke-width="1.15" fill="none"/>
<rect x="455.52" y="509.9" width="5.9" height="3.3" fill="#8a949a" stroke="#000" stroke-width="1.15"/>
<path d="M455.52 511.5H461.42" stroke="#000" stroke-width="1.15"/>
<path d="M465.87 505.5V512.6M465.87 524.7V532.4M464.67 505.5H467.07M464.67 532.4H467.07" stroke="#000" stroke-width="1.1" fill="none"/>
<rect x="462.92" y="512.6" width="5.9" height="12.1" fill="#3bed0c" stroke="#000" stroke-width="1.1"/>
<path d="M462.92 518.3H468.82" stroke="#000" stroke-width="1.1"/>
<path d="M480.8 507.2V508.2M480.8 512.6V514M479.6 507.2H482M479.6 514H482" stroke="#000" stroke-width="1.15" fill="none"/>
<rect x="477.85" y="508.2" width="5.9" height="4.4" fill="#cdd9e0" stroke="#000" stroke-width="1.15"/>
<path d="M477.85 511.3H483.75" stroke="#000" stroke-width="1.15"/>
<path d="M488.2 501.8V510.2M488.2 521.6V529.7M487 501.8H489.4M487 529.7H489.4" stroke="#000" stroke-width="1.1" fill="none"/>
<rect x="485.25" y="510.2" width="5.9" height="11.4" fill="#3bed0c" stroke="#000" stroke-width="1.1"/>
<path d="M485.25 515.8H491.15" stroke="#000" stroke-width="1.1"/>
<rect x="404.1" y="469.3" width="93.8" height="70.1" fill="none" stroke="#000" stroke-width="1.4"/>
<path d="M417.5 539.4V542.4" stroke="#000" stroke-width="1"/>
<text x="0" y="0" font-size="7.6" text-anchor="end" transform="translate(420.1 548.8) rotate(-45)">w/o</text>
<path d="M439.83 539.4V542.4" stroke="#000" stroke-width="1"/>
<text x="0" y="0" font-size="7.6" text-anchor="end" transform="translate(442.43 548.8) rotate(-45)">only Drug</text>
<path d="M462.17 539.4V542.4" stroke="#000" stroke-width="1"/>
<text x="0" y="0" font-size="7.6" text-anchor="end" transform="translate(464.77 548.8) rotate(-45)">Drug + BsAb</text>
<path d="M484.5 539.4V542.4" stroke="#000" stroke-width="1"/>
<text x="0" y="0" font-size="7.6" text-anchor="end" transform="translate(487.1 548.8) rotate(-45)">only BsAb</text>
<rect x="497.9" y="469.3" width="14" height="70.1" fill="none" stroke="#000" stroke-width="1.4"/>
<text x="0" y="0" font-size="7.3" text-anchor="middle" style="stroke-width:0.05px" transform="translate(502.4 504.35) rotate(90) scale(1 1.17)">CD20−BsAb low</text>
<path d="M302.1 486.9H304.7" stroke="#000" stroke-width="1"/>
<text x="301.4" y="489.7" font-size="7.9" text-anchor="end" font-weight="normal" fill="#000">200</text>
<path d="M302.1 499.43H304.7" stroke="#000" stroke-width="1"/>
<text x="301.4" y="502.23" font-size="7.9" text-anchor="end" font-weight="normal" fill="#000">150</text>
<path d="M302.1 511.95H304.7" stroke="#000" stroke-width="1"/>
<text x="301.4" y="514.75" font-size="7.9" text-anchor="end" font-weight="normal" fill="#000">100</text>
<path d="M302.1 524.48H304.7" stroke="#000" stroke-width="1"/>
<text x="301.4" y="527.27" font-size="7.9" text-anchor="end" font-weight="normal" fill="#000">50</text>
<path d="M302.1 537H304.7" stroke="#000" stroke-width="1"/>
<text x="301.4" y="539.8" font-size="7.9" text-anchor="end" font-weight="normal" fill="#000">0</text>
<text x="0" y="0" font-size="8.6" text-anchor="middle" textLength="45.4" lengthAdjust="spacingAndGlyphs" transform="translate(283.2 504.35) rotate(-90)">% viable B cells</text>
<text x="454.4" y="480.8" font-size="7.9"><tspan font-style="italic">p</tspan> = 0.06</text>
<path d="M214.3 432.4V435.3M214.3 444.9V447.4M212.6 432.4H216M212.6 447.4H216" stroke="#000" stroke-width="1"/>
<rect x="207.3" y="435.3" width="14" height="9.6" fill="#cdd9e0" stroke="#000" stroke-width="1.1"/>
<path d="M207.3 440.1H221.3" stroke="#000" stroke-width="1.3"/>
<text x="224.6" y="442.2" font-size="6.9" text-anchor="start" font-weight="normal" fill="#000" style="stroke-width:0.05px">Non−responder</text>
<path d="M296.3 432.4V435.3M296.3 444.9V447.4M294.6 432.4H298M294.6 447.4H298" stroke="#000" stroke-width="1"/>
<rect x="289.3" y="435.3" width="14" height="9.6" fill="#3bed0c" stroke="#000" stroke-width="1.1"/>
<path d="M289.3 440.1H303.3" stroke="#000" stroke-width="1.3"/>
<text x="306.6" y="442.2" font-size="6.9" text-anchor="start" font-weight="normal" fill="#000" style="stroke-width:0.05px">Responder</text>
<rect x="0.7" y="0.7" width="518.3" height="584.0" fill="none" stroke="#000" stroke-width="1.4"/>
</svg></body></html>
